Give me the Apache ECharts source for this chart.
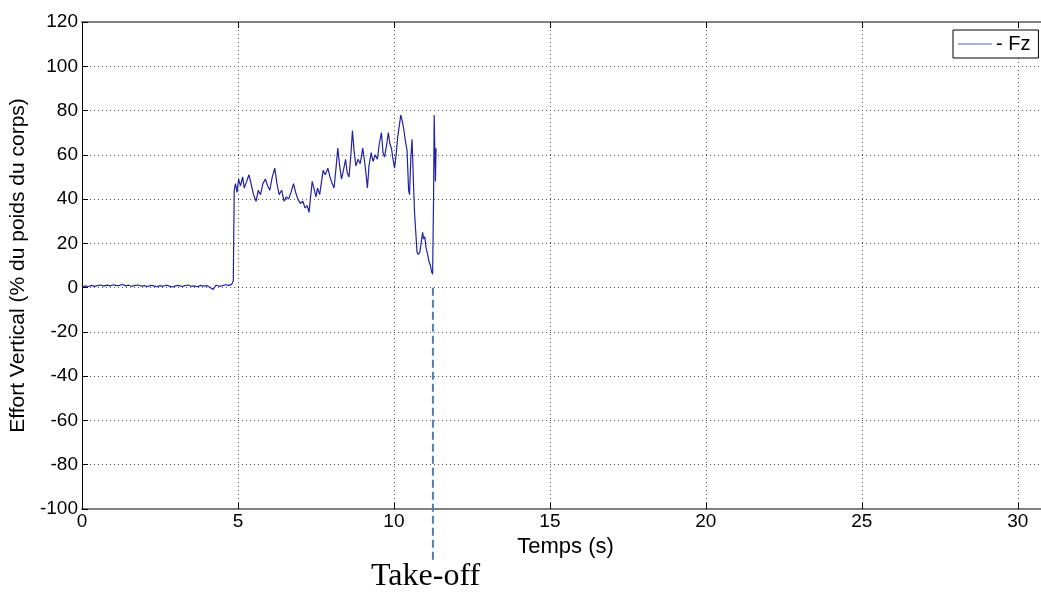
<!DOCTYPE html>
<html>
<head>
<meta charset="utf-8">
<script src="https://cdn.jsdelivr.net/npm/echarts@6/dist/echarts.min.js"></script>
<style>
html,body{margin:0;padding:0;background:#fff;}
#c{width:1041px;height:595px;}
</style>
</head>
<body>
<div id="c"></div>
<script>
// ---- data ----
const seriesName = '- Fz';
const xTicks = [0, 5, 10, 15, 20, 25, 30];
const yTicks = [-100, -80, -60, -40, -20, 0, 20, 40, 60, 80, 100, 120];
const fzTime = [
  0.0,0.1,0.2,0.3,0.4,0.5,0.6,0.7,0.8,0.9,1.0,1.1,1.2,1.3,1.4,1.5,1.6,1.7,1.8,1.9,
  2.0,2.1,2.2,2.3,2.4,2.5,2.6,2.7,2.8,2.9,3.0,3.1,3.2,3.3,3.4,3.5,3.6,3.7,3.8,3.9,
  4.0,4.1,4.2,4.3,4.4,4.5,4.6,4.7,4.8,
  4.85,4.88,4.92,4.97,5.02,5.08,5.15,5.2,5.28,5.35,5.42,5.5,5.58,5.65,5.72,5.8,5.88,5.95,
  6.02,6.1,6.18,6.25,6.32,6.4,6.48,6.55,6.62,6.7,6.78,6.85,6.92,7.0,7.08,7.15,7.22,7.28,
  7.32,7.38,7.45,7.5,7.55,7.62,7.68,7.73,7.8,7.88,7.95,8.02,8.08,8.15,8.2,8.26,8.32,8.38,
  8.45,8.5,8.56,8.62,8.67,8.72,8.78,8.85,8.92,9.0,9.05,9.1,9.15,9.2,9.27,9.33,9.4,9.47,
  9.53,9.6,9.65,9.7,9.76,9.82,9.87,9.92,9.97,10.02,10.07,10.12,10.18,10.22,10.27,10.32,
  10.37,10.42,10.47,10.5,10.54,10.58,10.62,10.66,10.7,10.74,10.78,10.83,10.87,10.92,10.95,
  10.99,11.03,11.08,11.12,11.17,11.21,11.24,11.27,11.29,11.31,11.33,11.35
];
const fzValue = [
  0.3,0.8,0.5,1.0,0.6,0.9,1.2,0.7,1.1,0.8,1.3,0.9,1.0,1.4,0.8,1.1,0.6,1.0,1.2,0.7,
  0.9,0.5,1.0,0.8,0.4,0.9,0.6,1.1,0.7,0.3,0.8,1.0,0.5,0.9,1.2,0.6,0.8,0.4,1.0,0.7,
  0.9,0.2,-0.8,1.1,0.6,0.9,1.3,1.0,1.5,
  3,44,47,43,49,46,50,45,48,51,47,42,39,44,42,47,49,46,
  44,50,54,47,42,44,39,41,40,43,47,43,40,38,39,36,37,34,
  40,48,44,41,45,42,48,53,51,54,50,47,45,55,63,55,49,53,
  58,52,50,60,71,62,55,58,56,63,58,52,45,55,61,57,60,58,
  65,70,61,59,64,70,65,63,58,54,60,68,74,78,75,71,
  66,62,44,42,58,67,50,34,25,16,15,16,20,25,22,
  23,18,15,12,10,7,6,40,78,62,48,63
];
const takeoffTime = 11.25;
const takeoffRange = [0, -123];
const takeoffLabel = 'Take-off';
const xName = 'Temps (s)';
const yName = 'Effort Vertical (% du poids du corps)';

const fzData = fzTime.map((t, i) => [t, fzValue[i]]);
const takeoffData = takeoffRange.map(v => [takeoffTime, v]);

const chart = echarts.init(document.getElementById('c'), null, {renderer: 'canvas'});
const tickFont = {fontFamily: "'Liberation Sans', Arial, sans-serif", fontSize: 19, color: '#000'};
const gridLine = {show: true, lineStyle: {color: '#555', type: [1, 3], width: 1}};

chart.setOption({
  backgroundColor: '#fff',
  animation: false,
  grid: {left: 82, top: 22, width: 967, height: 487, containLabel: false, outerBoundsMode: 'none'},
  legend: {
    data: [seriesName],
    icon: 'rect',
    left: 953, top: 30,
    padding: [4, 8, 4, 5],
    backgroundColor: '#fff',
    borderColor: '#000', borderWidth: 1,
    itemWidth: 34, itemHeight: 1.2, itemGap: 4,
    textStyle: {fontFamily: "'Liberation Sans', Arial, sans-serif", fontSize: 20, color: '#000', padding: [0,0,0,-1]}
  },
  xAxis: [{
    type: 'value', min: 0, max: 31, interval: 5,
    name: xName, nameLocation: 'middle', nameGap: 27,
    nameTextStyle: Object.assign({}, tickFont, {fontSize: 22}),
    axisLine: {show: true, onZero: false, lineStyle: {color: '#808080', width: 2}},
    axisTick: {show: true, inside: true, length: 6, lineStyle: {color: '#000'}},
    axisLabel: Object.assign({margin: 3, formatter: v => xTicks.includes(v) ? String(v) : ''}, tickFont),
    splitLine: gridLine
  }, {
    type: 'value', min: 0, max: 31, interval: 5, position: 'top',
    axisLine: {show: true, onZero: false, lineStyle: {color: '#808080', width: 2}},
    axisTick: {show: true, inside: true, length: 6, lineStyle: {color: '#000'}},
    axisLabel: {show: false}, splitLine: {show: false}
  }],
  yAxis: {
    type: 'value', min: -100, max: 120, interval: 20,
    name: yName, nameLocation: 'middle', nameGap: 50, nameRotate: 90,
    nameTextStyle: Object.assign({}, tickFont, {fontSize: 21}),
    axisLine: {show: true, onZero: false, lineStyle: {color: '#000', width: 1}},
    axisTick: {show: true, inside: true, length: 6, lineStyle: {color: '#000'}},
    axisLabel: Object.assign({margin: 4, formatter: v => yTicks.includes(v) ? String(v) : ''}, tickFont),
    splitLine: gridLine
  },
  series: [{
    name: seriesName, type: 'line', data: fzData,
    showSymbol: false, symbol: 'none',
    lineStyle: {color: '#2222a6', width: 1.2},
    itemStyle: {color: '#5a5ab8'},
    z: 3
  }, {
    name: 'takeoff', type: 'line', data: takeoffData,
    showSymbol: false, symbol: 'none', clip: false, silent: true,
    lineStyle: {color: '#4a7fc4', width: 2, type: [8, 4]},
    z: 2
  }],
  graphic: [{
    type: 'text',
    left: 371, top: 561,
    style: {text: takeoffLabel, font: "32px 'Liberation Serif', 'Times New Roman', serif", fill: '#000'}
  }]
});
</script>
</body>
</html>
